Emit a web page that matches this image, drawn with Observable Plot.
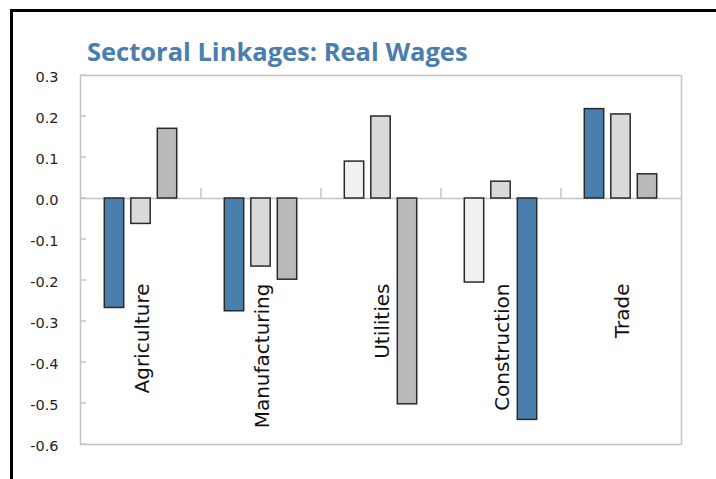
<!DOCTYPE html>
<html>
<head>
<meta charset="utf-8">
<script src="https://cdn.jsdelivr.net/npm/d3@7"></script>
<script src="https://cdn.jsdelivr.net/npm/@observablehq/plot@0.6"></script>
<style>
  html, body { margin: 0; padding: 0; background: #fff; }
  body { width: 716px; height: 479px; position: relative; overflow: hidden; }
  #outer { position: absolute; left: 10px; top: 9px; width: 900px; height: 700px;
           border-left: 3px solid #000; border-top: 3px solid #000; }
  #title { position: absolute; left: 87px; top: 38px; margin: 0;
           font-family: "Open Sans", sans-serif; font-weight: 700; font-size: 25.5px;
           line-height: 26px; color: #4a7eae; white-space: nowrap; }
  #chart { position: absolute; left: 0; top: 60px; }
</style>
</head>
<body>
<div id="outer"></div>
<div id="title">Sectoral Linkages: Real Wages</div>
<div id="chart"></div>
<script>
// ---- data ----
const sectors = ["Agriculture", "Manufacturing", "Utilities", "Construction", "Trade"];
const bar1Values = [-0.267, -0.275, 0.090, -0.205, 0.218];
const bar2Values = [-0.062, -0.166, 0.200, 0.041, 0.205];
const bar3Values = [0.170, -0.198, -0.502, -0.540, 0.059];
const bar1Shade = ["highlight", "highlight", "pale", "pale", "highlight"];
const bar2Shade = ["soft", "soft", "soft", "soft", "soft"];
const bar3Shade = ["medium", "medium", "medium", "highlight", "medium"];
const yTicks = [0.3, 0.2, 0.1, 0.0, -0.1, -0.2, -0.3, -0.4, -0.5, -0.6];

const shadeDomain = ["highlight", "pale", "soft", "medium"];
const shadeRange = ["#4a7eac", "#f1f1f1", "#dadada", "#b9b9b9"];

const rows = (vals, shades) => sectors.map((s, i) => ({sector: s, value: vals[i], shade: shades[i]}));
const series = [rows(bar1Values, bar1Shade), rows(bar2Values, bar2Shade), rows(bar3Values, bar3Shade)];
const offsets = [-27, -0.5, 26];

const barMarks = series.map((data, k) => Plot.barY(data, {
  x: "sector", y: "value", fill: "shade",
  stroke: "#2a2a2a", strokeWidth: 1.5,
  insetLeft: 50.3, insetRight: 50.3, dx: offsets[k]
}));

// inner y ticks + category separators at the zero line
const decorations = (index, scales, values, dims) => {
  const g = d3.create("svg:g").attr("stroke", "#c4c4c4").attr("stroke-width", 1.5);
  const x0 = dims.marginLeft;
  for (const t of yTicks) {
    const y = scales.y(t);
    g.append("line").attr("x1", x0).attr("x2", x0 + 6).attr("y1", y).attr("y2", y);
  }
  const yz = scales.y(0);
  for (const s of sectors.slice(1)) {
    const x = scales.x(s);
    g.append("line").attr("x1", x).attr("x2", x).attr("y1", yz).attr("y2", yz - 10);
  }
  return g.node();
};

const chart = Plot.plot({
  width: 716,
  height: 410,
  marginTop: 15,
  marginBottom: 26,
  marginLeft: 80,
  marginRight: 35,
  style: {background: "transparent", fontFamily: "DejaVu Sans, sans-serif"},
  x: {domain: sectors, padding: 0, axis: null},
  y: {domain: [-0.6, 0.3], axis: null},
  color: {domain: shadeDomain, range: shadeRange},
  marks: [
    Plot.frame({stroke: "#c4c4c4", strokeWidth: 1.5}),
    Plot.axisY(yTicks, {tickSize: 0, tickPadding: 22, tickFormat: d => d.toFixed(1),
      label: null, fontSize: 14.5, fill: "#1e1e1e", dy: 1.5}),
    Plot.ruleY([0], {stroke: "#c4c4c4", strokeWidth: 1.5}),
    decorations,
    ...barMarks,
    Plot.text(sectors, {x: d => d, y: () => 0, text: d => d, rotate: -90,
      textAnchor: "end", dy: 85, dx: 1.5, fontSize: 20, fill: "#111"})
  ]
});
document.getElementById("chart").appendChild(chart);
</script>
</body>
</html>
